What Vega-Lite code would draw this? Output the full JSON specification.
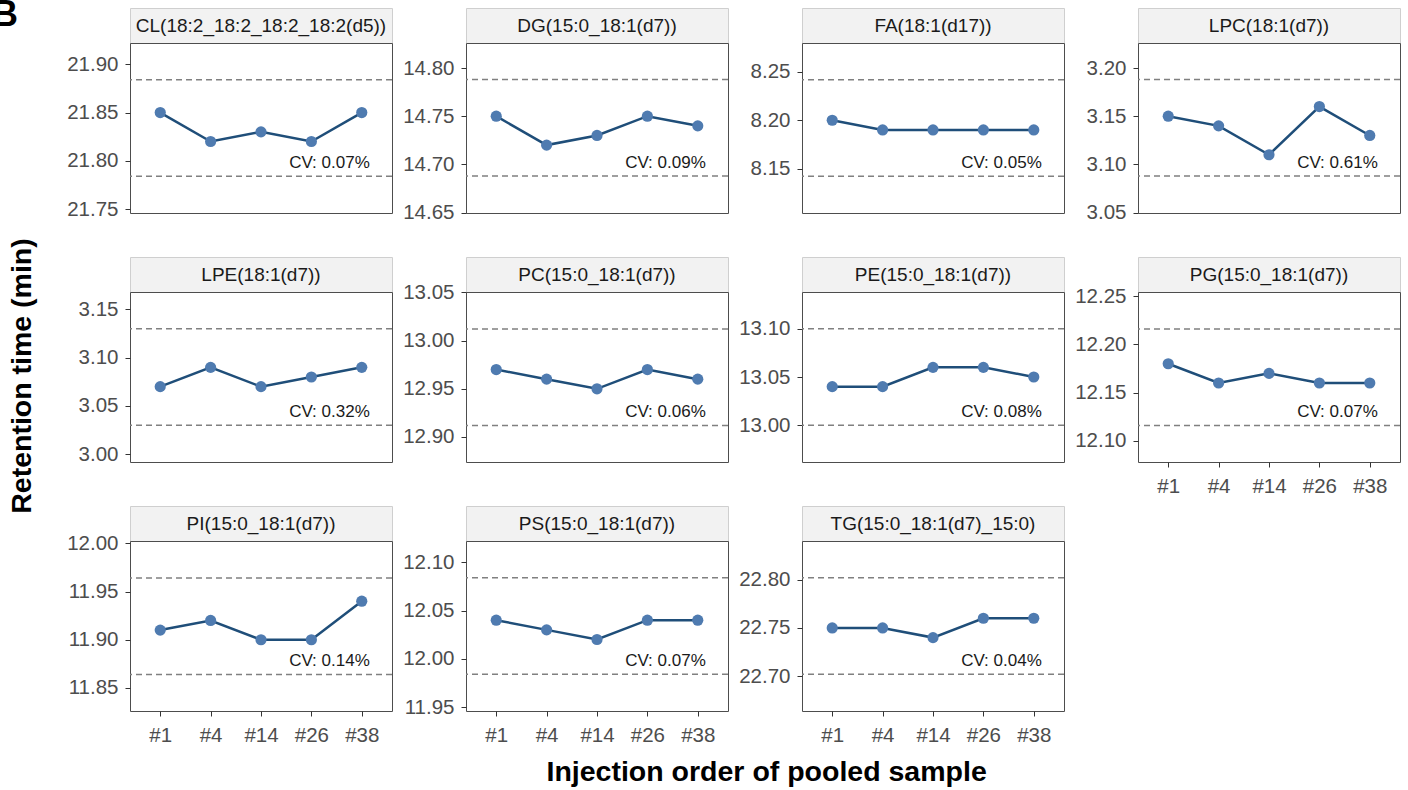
{
"$schema": "https://vega.github.io/schema/vega-lite/v6.json",
"padding": {"left": -8, "top": -3, "right": 5, "bottom": 5},
"background": "white",
"title": {"text": "Injection order of pooled sample", "orient": "bottom", "anchor": "middle", "frame": "bounds", "dx": 70, "offset": 12, "fontSize": 28.5, "fontWeight": "bold", "font": "Liberation Sans", "color": "#000000"},
"config": {
 "font": "Liberation Sans",
 "view": {"stroke": "#4d4d4d", "strokeWidth": 1},
 "axis": {"labelFontSize": 20.5, "labelColor": "#4d4d4d", "tickColor": "#333333", "tickSize": 5, "domain": false, "grid": false, "labelPadding": 7, "title": null},
 "axisX": {"labelPadding": 9, "labelAngle": 0}
},
"datasets": {
 "rt": [
  {"class":"CL","order":"#1","rt":21.85},{"class":"CL","order":"#4","rt":21.82},{"class":"CL","order":"#14","rt":21.83},{"class":"CL","order":"#26","rt":21.82},{"class":"CL","order":"#38","rt":21.85},
  {"class":"DG","order":"#1","rt":14.75},{"class":"DG","order":"#4","rt":14.72},{"class":"DG","order":"#14","rt":14.73},{"class":"DG","order":"#26","rt":14.75},{"class":"DG","order":"#38","rt":14.74},
  {"class":"FA","order":"#1","rt":8.20},{"class":"FA","order":"#4","rt":8.19},{"class":"FA","order":"#14","rt":8.19},{"class":"FA","order":"#26","rt":8.19},{"class":"FA","order":"#38","rt":8.19},
  {"class":"LPC","order":"#1","rt":3.15},{"class":"LPC","order":"#4","rt":3.14},{"class":"LPC","order":"#14","rt":3.11},{"class":"LPC","order":"#26","rt":3.16},{"class":"LPC","order":"#38","rt":3.13},
  {"class":"LPE","order":"#1","rt":3.07},{"class":"LPE","order":"#4","rt":3.09},{"class":"LPE","order":"#14","rt":3.07},{"class":"LPE","order":"#26","rt":3.08},{"class":"LPE","order":"#38","rt":3.09},
  {"class":"PC","order":"#1","rt":12.97},{"class":"PC","order":"#4","rt":12.96},{"class":"PC","order":"#14","rt":12.95},{"class":"PC","order":"#26","rt":12.97},{"class":"PC","order":"#38","rt":12.96},
  {"class":"PE","order":"#1","rt":13.04},{"class":"PE","order":"#4","rt":13.04},{"class":"PE","order":"#14","rt":13.06},{"class":"PE","order":"#26","rt":13.06},{"class":"PE","order":"#38","rt":13.05},
  {"class":"PG","order":"#1","rt":12.18},{"class":"PG","order":"#4","rt":12.16},{"class":"PG","order":"#14","rt":12.17},{"class":"PG","order":"#26","rt":12.16},{"class":"PG","order":"#38","rt":12.16},
  {"class":"PI","order":"#1","rt":11.91},{"class":"PI","order":"#4","rt":11.92},{"class":"PI","order":"#14","rt":11.90},{"class":"PI","order":"#26","rt":11.90},{"class":"PI","order":"#38","rt":11.94},
  {"class":"PS","order":"#1","rt":12.04},{"class":"PS","order":"#4","rt":12.03},{"class":"PS","order":"#14","rt":12.02},{"class":"PS","order":"#26","rt":12.04},{"class":"PS","order":"#38","rt":12.04},
  {"class":"TG","order":"#1","rt":22.75},{"class":"TG","order":"#4","rt":22.75},{"class":"TG","order":"#14","rt":22.74},{"class":"TG","order":"#26","rt":22.76},{"class":"TG","order":"#38","rt":22.76}
 ],
 "stats": [
  {"class":"CL","lipid":"CL(18:2_18:2_18:2_18:2(d5))","lower":21.784,"upper":21.884,"cv":"CV: 0.07%"},
  {"class":"DG","lipid":"DG(15:0_18:1(d7))","lower":14.688,"upper":14.788,"cv":"CV: 0.09%"},
  {"class":"FA","lipid":"FA(18:1(d17))","lower":8.142,"upper":8.242,"cv":"CV: 0.05%"},
  {"class":"LPC","lipid":"LPC(18:1(d7))","lower":3.088,"upper":3.188,"cv":"CV: 0.61%"},
  {"class":"LPE","lipid":"LPE(18:1(d7))","lower":3.03,"upper":3.13,"cv":"CV: 0.32%"},
  {"class":"PC","lipid":"PC(15:0_18:1(d7))","lower":12.912,"upper":13.012,"cv":"CV: 0.06%"},
  {"class":"PE","lipid":"PE(15:0_18:1(d7))","lower":13.0,"upper":13.1,"cv":"CV: 0.08%"},
  {"class":"PG","lipid":"PG(15:0_18:1(d7))","lower":12.116,"upper":12.216,"cv":"CV: 0.07%"},
  {"class":"PI","lipid":"PI(15:0_18:1(d7))","lower":11.864,"upper":11.964,"cv":"CV: 0.14%"},
  {"class":"PS","lipid":"PS(15:0_18:1(d7))","lower":11.984,"upper":12.084,"cv":"CV: 0.07%"},
  {"class":"TG","lipid":"TG(15:0_18:1(d7)_15:0)","lower":22.702,"upper":22.802,"cv":"CV: 0.04%"}
 ]
},
"spacing": 22,
"hconcat": [
 {"data": {"values": [{"label": "Retention time (min)"}]}, "width": 44, "height": 736, "view": {"stroke": null}, "title": {"text": "B", "anchor": "start", "frame": "group", "fontSize": 36, "fontWeight": "bold", "font": "Liberation Sans", "color": "#000000", "baseline": "alphabetic", "offset": 0, "dy": 54, "dx": -8}, "mark": {"type": "text", "angle": 270, "fontSize": 28.5, "fontWeight": "bold", "color": "#000000", "align": "center", "baseline": "middle"}, "encoding": {"text": {"field": "label"}}},
 {
 "columns": 4,
 "align": "each",
 "spacing": {"row": 8, "column": 8},
 "concat": [
 {"spacing": 0, "bounds": "flush", "vconcat": [
  {"data": {"name": "stats"}, "transform": [{"filter": "datum.class == 'CL'"}], "width": 262, "height": 35, "view": {"fill": "#f2f2f2", "stroke": "#cfcfcf"}, "mark": {"type": "text", "fontSize": 19, "color": "#1a1a1a"}, "encoding": {"text": {"field": "lipid"}}},
  {"width": 262, "height": 170, "layer": [
   {"data": {"name": "stats"}, "transform": [{"filter": "datum.class == 'CL'"}], "mark": {"type": "rule", "stroke": "#808080", "strokeDash": [6,4], "strokeWidth": 1.5}, "encoding": {"y": {"field": "lower", "type": "quantitative", "scale": {"domain": [21.746, 21.922], "nice": false, "zero": false}, "axis": {"values": [21.75, 21.8, 21.85, 21.9], "format": ".2f"}}}},
   {"data": {"name": "stats"}, "transform": [{"filter": "datum.class == 'CL'"}], "mark": {"type": "rule", "stroke": "#808080", "strokeDash": [6,4], "strokeWidth": 1.5}, "encoding": {"y": {"field": "upper", "type": "quantitative"}}},
   {"data": {"name": "rt"}, "transform": [{"filter": "datum.class == 'CL'"}], "mark": {"type": "line", "color": "#1f4e79", "strokeWidth": 2.5}, "encoding": {"x": {"field": "order", "type": "ordinal", "scale": {"type": "point", "padding": 0.6, "domain": ["#1","#4","#14","#26","#38"]}, "axis": {"labelOpacity": 0, "tickOpacity": 0}}, "y": {"field": "rt", "type": "quantitative"}}},
   {"data": {"name": "rt"}, "transform": [{"filter": "datum.class == 'CL'"}], "mark": {"type": "point", "filled": true, "fill": "#4f7bb0", "opacity": 1, "size": 125}, "encoding": {"x": {"field": "order", "type": "ordinal"}, "y": {"field": "rt", "type": "quantitative"}}},
   {"data": {"name": "stats"}, "transform": [{"filter": "datum.class == 'CL'"}], "mark": {"type": "text", "align": "right", "dx": 8, "dy": -13, "fontSize": 17, "color": "#1a1a1a"}, "encoding": {"x": {"datum": "#38", "type": "ordinal"}, "y": {"field": "lower", "type": "quantitative"}, "text": {"field": "cv"}}}
  ]}
 ]},
 {"spacing": 0, "bounds": "flush", "vconcat": [
  {"data": {"name": "stats"}, "transform": [{"filter": "datum.class == 'DG'"}], "width": 262, "height": 35, "view": {"fill": "#f2f2f2", "stroke": "#cfcfcf"}, "mark": {"type": "text", "fontSize": 19, "color": "#1a1a1a"}, "encoding": {"text": {"field": "lipid"}}},
  {"width": 262, "height": 170, "layer": [
   {"data": {"name": "stats"}, "transform": [{"filter": "datum.class == 'DG'"}], "mark": {"type": "rule", "stroke": "#808080", "strokeDash": [6,4], "strokeWidth": 1.5}, "encoding": {"y": {"field": "lower", "type": "quantitative", "scale": {"domain": [14.6495, 14.826], "nice": false, "zero": false}, "axis": {"values": [14.65, 14.7, 14.75, 14.8], "format": ".2f"}}}},
   {"data": {"name": "stats"}, "transform": [{"filter": "datum.class == 'DG'"}], "mark": {"type": "rule", "stroke": "#808080", "strokeDash": [6,4], "strokeWidth": 1.5}, "encoding": {"y": {"field": "upper", "type": "quantitative"}}},
   {"data": {"name": "rt"}, "transform": [{"filter": "datum.class == 'DG'"}], "mark": {"type": "line", "color": "#1f4e79", "strokeWidth": 2.5}, "encoding": {"x": {"field": "order", "type": "ordinal", "scale": {"type": "point", "padding": 0.6, "domain": ["#1","#4","#14","#26","#38"]}, "axis": {"labelOpacity": 0, "tickOpacity": 0}}, "y": {"field": "rt", "type": "quantitative"}}},
   {"data": {"name": "rt"}, "transform": [{"filter": "datum.class == 'DG'"}], "mark": {"type": "point", "filled": true, "fill": "#4f7bb0", "opacity": 1, "size": 125}, "encoding": {"x": {"field": "order", "type": "ordinal"}, "y": {"field": "rt", "type": "quantitative"}}},
   {"data": {"name": "stats"}, "transform": [{"filter": "datum.class == 'DG'"}], "mark": {"type": "text", "align": "right", "dx": 8, "dy": -13, "fontSize": 17, "color": "#1a1a1a"}, "encoding": {"x": {"datum": "#38", "type": "ordinal"}, "y": {"field": "lower", "type": "quantitative"}, "text": {"field": "cv"}}}
  ]}
 ]},
 {"spacing": 0, "bounds": "flush", "vconcat": [
  {"data": {"name": "stats"}, "transform": [{"filter": "datum.class == 'FA'"}], "width": 262, "height": 35, "view": {"fill": "#f2f2f2", "stroke": "#cfcfcf"}, "mark": {"type": "text", "fontSize": 19, "color": "#1a1a1a"}, "encoding": {"text": {"field": "lipid"}}},
  {"width": 262, "height": 170, "layer": [
   {"data": {"name": "stats"}, "transform": [{"filter": "datum.class == 'FA'"}], "mark": {"type": "rule", "stroke": "#808080", "strokeDash": [6,4], "strokeWidth": 1.5}, "encoding": {"y": {"field": "lower", "type": "quantitative", "scale": {"domain": [8.104, 8.28], "nice": false, "zero": false}, "axis": {"values": [8.15, 8.2, 8.25], "format": ".2f"}}}},
   {"data": {"name": "stats"}, "transform": [{"filter": "datum.class == 'FA'"}], "mark": {"type": "rule", "stroke": "#808080", "strokeDash": [6,4], "strokeWidth": 1.5}, "encoding": {"y": {"field": "upper", "type": "quantitative"}}},
   {"data": {"name": "rt"}, "transform": [{"filter": "datum.class == 'FA'"}], "mark": {"type": "line", "color": "#1f4e79", "strokeWidth": 2.5}, "encoding": {"x": {"field": "order", "type": "ordinal", "scale": {"type": "point", "padding": 0.6, "domain": ["#1","#4","#14","#26","#38"]}, "axis": {"labelOpacity": 0, "tickOpacity": 0}}, "y": {"field": "rt", "type": "quantitative"}}},
   {"data": {"name": "rt"}, "transform": [{"filter": "datum.class == 'FA'"}], "mark": {"type": "point", "filled": true, "fill": "#4f7bb0", "opacity": 1, "size": 125}, "encoding": {"x": {"field": "order", "type": "ordinal"}, "y": {"field": "rt", "type": "quantitative"}}},
   {"data": {"name": "stats"}, "transform": [{"filter": "datum.class == 'FA'"}], "mark": {"type": "text", "align": "right", "dx": 8, "dy": -13, "fontSize": 17, "color": "#1a1a1a"}, "encoding": {"x": {"datum": "#38", "type": "ordinal"}, "y": {"field": "lower", "type": "quantitative"}, "text": {"field": "cv"}}}
  ]}
 ]},
 {"spacing": 0, "bounds": "flush", "vconcat": [
  {"data": {"name": "stats"}, "transform": [{"filter": "datum.class == 'LPC'"}], "width": 262, "height": 35, "view": {"fill": "#f2f2f2", "stroke": "#cfcfcf"}, "mark": {"type": "text", "fontSize": 19, "color": "#1a1a1a"}, "encoding": {"text": {"field": "lipid"}}},
  {"width": 262, "height": 170, "layer": [
   {"data": {"name": "stats"}, "transform": [{"filter": "datum.class == 'LPC'"}], "mark": {"type": "rule", "stroke": "#808080", "strokeDash": [6,4], "strokeWidth": 1.5}, "encoding": {"y": {"field": "lower", "type": "quantitative", "scale": {"domain": [3.0495, 3.226], "nice": false, "zero": false}, "axis": {"values": [3.05, 3.1, 3.15, 3.2], "format": ".2f"}}}},
   {"data": {"name": "stats"}, "transform": [{"filter": "datum.class == 'LPC'"}], "mark": {"type": "rule", "stroke": "#808080", "strokeDash": [6,4], "strokeWidth": 1.5}, "encoding": {"y": {"field": "upper", "type": "quantitative"}}},
   {"data": {"name": "rt"}, "transform": [{"filter": "datum.class == 'LPC'"}], "mark": {"type": "line", "color": "#1f4e79", "strokeWidth": 2.5}, "encoding": {"x": {"field": "order", "type": "ordinal", "scale": {"type": "point", "padding": 0.6, "domain": ["#1","#4","#14","#26","#38"]}, "axis": {"labelOpacity": 0, "tickOpacity": 0}}, "y": {"field": "rt", "type": "quantitative"}}},
   {"data": {"name": "rt"}, "transform": [{"filter": "datum.class == 'LPC'"}], "mark": {"type": "point", "filled": true, "fill": "#4f7bb0", "opacity": 1, "size": 125}, "encoding": {"x": {"field": "order", "type": "ordinal"}, "y": {"field": "rt", "type": "quantitative"}}},
   {"data": {"name": "stats"}, "transform": [{"filter": "datum.class == 'LPC'"}], "mark": {"type": "text", "align": "right", "dx": 8, "dy": -13, "fontSize": 17, "color": "#1a1a1a"}, "encoding": {"x": {"datum": "#38", "type": "ordinal"}, "y": {"field": "lower", "type": "quantitative"}, "text": {"field": "cv"}}}
  ]}
 ]},
 {"spacing": 0, "bounds": "flush", "vconcat": [
  {"data": {"name": "stats"}, "transform": [{"filter": "datum.class == 'LPE'"}], "width": 262, "height": 35, "view": {"fill": "#f2f2f2", "stroke": "#cfcfcf"}, "mark": {"type": "text", "fontSize": 19, "color": "#1a1a1a"}, "encoding": {"text": {"field": "lipid"}}},
  {"width": 262, "height": 170, "layer": [
   {"data": {"name": "stats"}, "transform": [{"filter": "datum.class == 'LPE'"}], "mark": {"type": "rule", "stroke": "#808080", "strokeDash": [6,4], "strokeWidth": 1.5}, "encoding": {"y": {"field": "lower", "type": "quantitative", "scale": {"domain": [2.992, 3.168], "nice": false, "zero": false}, "axis": {"values": [3.0, 3.05, 3.1, 3.15], "format": ".2f"}}}},
   {"data": {"name": "stats"}, "transform": [{"filter": "datum.class == 'LPE'"}], "mark": {"type": "rule", "stroke": "#808080", "strokeDash": [6,4], "strokeWidth": 1.5}, "encoding": {"y": {"field": "upper", "type": "quantitative"}}},
   {"data": {"name": "rt"}, "transform": [{"filter": "datum.class == 'LPE'"}], "mark": {"type": "line", "color": "#1f4e79", "strokeWidth": 2.5}, "encoding": {"x": {"field": "order", "type": "ordinal", "scale": {"type": "point", "padding": 0.6, "domain": ["#1","#4","#14","#26","#38"]}, "axis": {"labelOpacity": 0, "tickOpacity": 0}}, "y": {"field": "rt", "type": "quantitative"}}},
   {"data": {"name": "rt"}, "transform": [{"filter": "datum.class == 'LPE'"}], "mark": {"type": "point", "filled": true, "fill": "#4f7bb0", "opacity": 1, "size": 125}, "encoding": {"x": {"field": "order", "type": "ordinal"}, "y": {"field": "rt", "type": "quantitative"}}},
   {"data": {"name": "stats"}, "transform": [{"filter": "datum.class == 'LPE'"}], "mark": {"type": "text", "align": "right", "dx": 8, "dy": -13, "fontSize": 17, "color": "#1a1a1a"}, "encoding": {"x": {"datum": "#38", "type": "ordinal"}, "y": {"field": "lower", "type": "quantitative"}, "text": {"field": "cv"}}}
  ]}
 ]},
 {"spacing": 0, "bounds": "flush", "vconcat": [
  {"data": {"name": "stats"}, "transform": [{"filter": "datum.class == 'PC'"}], "width": 262, "height": 35, "view": {"fill": "#f2f2f2", "stroke": "#cfcfcf"}, "mark": {"type": "text", "fontSize": 19, "color": "#1a1a1a"}, "encoding": {"text": {"field": "lipid"}}},
  {"width": 262, "height": 170, "layer": [
   {"data": {"name": "stats"}, "transform": [{"filter": "datum.class == 'PC'"}], "mark": {"type": "rule", "stroke": "#808080", "strokeDash": [6,4], "strokeWidth": 1.5}, "encoding": {"y": {"field": "lower", "type": "quantitative", "scale": {"domain": [12.874, 13.0505], "nice": false, "zero": false}, "axis": {"values": [12.9, 12.95, 13.0, 13.05], "format": ".2f"}}}},
   {"data": {"name": "stats"}, "transform": [{"filter": "datum.class == 'PC'"}], "mark": {"type": "rule", "stroke": "#808080", "strokeDash": [6,4], "strokeWidth": 1.5}, "encoding": {"y": {"field": "upper", "type": "quantitative"}}},
   {"data": {"name": "rt"}, "transform": [{"filter": "datum.class == 'PC'"}], "mark": {"type": "line", "color": "#1f4e79", "strokeWidth": 2.5}, "encoding": {"x": {"field": "order", "type": "ordinal", "scale": {"type": "point", "padding": 0.6, "domain": ["#1","#4","#14","#26","#38"]}, "axis": {"labelOpacity": 0, "tickOpacity": 0}}, "y": {"field": "rt", "type": "quantitative"}}},
   {"data": {"name": "rt"}, "transform": [{"filter": "datum.class == 'PC'"}], "mark": {"type": "point", "filled": true, "fill": "#4f7bb0", "opacity": 1, "size": 125}, "encoding": {"x": {"field": "order", "type": "ordinal"}, "y": {"field": "rt", "type": "quantitative"}}},
   {"data": {"name": "stats"}, "transform": [{"filter": "datum.class == 'PC'"}], "mark": {"type": "text", "align": "right", "dx": 8, "dy": -13, "fontSize": 17, "color": "#1a1a1a"}, "encoding": {"x": {"datum": "#38", "type": "ordinal"}, "y": {"field": "lower", "type": "quantitative"}, "text": {"field": "cv"}}}
  ]}
 ]},
 {"spacing": 0, "bounds": "flush", "vconcat": [
  {"data": {"name": "stats"}, "transform": [{"filter": "datum.class == 'PE'"}], "width": 262, "height": 35, "view": {"fill": "#f2f2f2", "stroke": "#cfcfcf"}, "mark": {"type": "text", "fontSize": 19, "color": "#1a1a1a"}, "encoding": {"text": {"field": "lipid"}}},
  {"width": 262, "height": 170, "layer": [
   {"data": {"name": "stats"}, "transform": [{"filter": "datum.class == 'PE'"}], "mark": {"type": "rule", "stroke": "#808080", "strokeDash": [6,4], "strokeWidth": 1.5}, "encoding": {"y": {"field": "lower", "type": "quantitative", "scale": {"domain": [12.962, 13.138], "nice": false, "zero": false}, "axis": {"values": [13.0, 13.05, 13.1], "format": ".2f"}}}},
   {"data": {"name": "stats"}, "transform": [{"filter": "datum.class == 'PE'"}], "mark": {"type": "rule", "stroke": "#808080", "strokeDash": [6,4], "strokeWidth": 1.5}, "encoding": {"y": {"field": "upper", "type": "quantitative"}}},
   {"data": {"name": "rt"}, "transform": [{"filter": "datum.class == 'PE'"}], "mark": {"type": "line", "color": "#1f4e79", "strokeWidth": 2.5}, "encoding": {"x": {"field": "order", "type": "ordinal", "scale": {"type": "point", "padding": 0.6, "domain": ["#1","#4","#14","#26","#38"]}, "axis": {"labelOpacity": 0, "tickOpacity": 0}}, "y": {"field": "rt", "type": "quantitative"}}},
   {"data": {"name": "rt"}, "transform": [{"filter": "datum.class == 'PE'"}], "mark": {"type": "point", "filled": true, "fill": "#4f7bb0", "opacity": 1, "size": 125}, "encoding": {"x": {"field": "order", "type": "ordinal"}, "y": {"field": "rt", "type": "quantitative"}}},
   {"data": {"name": "stats"}, "transform": [{"filter": "datum.class == 'PE'"}], "mark": {"type": "text", "align": "right", "dx": 8, "dy": -13, "fontSize": 17, "color": "#1a1a1a"}, "encoding": {"x": {"datum": "#38", "type": "ordinal"}, "y": {"field": "lower", "type": "quantitative"}, "text": {"field": "cv"}}}
  ]}
 ]},
 {"spacing": 0, "bounds": "flush", "vconcat": [
  {"data": {"name": "stats"}, "transform": [{"filter": "datum.class == 'PG'"}], "width": 262, "height": 35, "view": {"fill": "#f2f2f2", "stroke": "#cfcfcf"}, "mark": {"type": "text", "fontSize": 19, "color": "#1a1a1a"}, "encoding": {"text": {"field": "lipid"}}},
  {"width": 262, "height": 170, "layer": [
   {"data": {"name": "stats"}, "transform": [{"filter": "datum.class == 'PG'"}], "mark": {"type": "rule", "stroke": "#808080", "strokeDash": [6,4], "strokeWidth": 1.5}, "encoding": {"y": {"field": "lower", "type": "quantitative", "scale": {"domain": [12.078, 12.2545], "nice": false, "zero": false}, "axis": {"values": [12.1, 12.15, 12.2, 12.25], "format": ".2f"}}}},
   {"data": {"name": "stats"}, "transform": [{"filter": "datum.class == 'PG'"}], "mark": {"type": "rule", "stroke": "#808080", "strokeDash": [6,4], "strokeWidth": 1.5}, "encoding": {"y": {"field": "upper", "type": "quantitative"}}},
   {"data": {"name": "rt"}, "transform": [{"filter": "datum.class == 'PG'"}], "mark": {"type": "line", "color": "#1f4e79", "strokeWidth": 2.5}, "encoding": {"x": {"field": "order", "type": "ordinal", "scale": {"type": "point", "padding": 0.6, "domain": ["#1","#4","#14","#26","#38"]}}, "y": {"field": "rt", "type": "quantitative"}}},
   {"data": {"name": "rt"}, "transform": [{"filter": "datum.class == 'PG'"}], "mark": {"type": "point", "filled": true, "fill": "#4f7bb0", "opacity": 1, "size": 125}, "encoding": {"x": {"field": "order", "type": "ordinal"}, "y": {"field": "rt", "type": "quantitative"}}},
   {"data": {"name": "stats"}, "transform": [{"filter": "datum.class == 'PG'"}], "mark": {"type": "text", "align": "right", "dx": 8, "dy": -13, "fontSize": 17, "color": "#1a1a1a"}, "encoding": {"x": {"datum": "#38", "type": "ordinal"}, "y": {"field": "lower", "type": "quantitative"}, "text": {"field": "cv"}}}
  ]}
 ]},
 {"spacing": 0, "bounds": "flush", "vconcat": [
  {"data": {"name": "stats"}, "transform": [{"filter": "datum.class == 'PI'"}], "width": 262, "height": 35, "view": {"fill": "#f2f2f2", "stroke": "#cfcfcf"}, "mark": {"type": "text", "fontSize": 19, "color": "#1a1a1a"}, "encoding": {"text": {"field": "lipid"}}},
  {"width": 262, "height": 170, "layer": [
   {"data": {"name": "stats"}, "transform": [{"filter": "datum.class == 'PI'"}], "mark": {"type": "rule", "stroke": "#808080", "strokeDash": [6,4], "strokeWidth": 1.5}, "encoding": {"y": {"field": "lower", "type": "quantitative", "scale": {"domain": [11.826, 12.0025], "nice": false, "zero": false}, "axis": {"values": [11.85, 11.9, 11.95, 12.0], "format": ".2f"}}}},
   {"data": {"name": "stats"}, "transform": [{"filter": "datum.class == 'PI'"}], "mark": {"type": "rule", "stroke": "#808080", "strokeDash": [6,4], "strokeWidth": 1.5}, "encoding": {"y": {"field": "upper", "type": "quantitative"}}},
   {"data": {"name": "rt"}, "transform": [{"filter": "datum.class == 'PI'"}], "mark": {"type": "line", "color": "#1f4e79", "strokeWidth": 2.5}, "encoding": {"x": {"field": "order", "type": "ordinal", "scale": {"type": "point", "padding": 0.6, "domain": ["#1","#4","#14","#26","#38"]}}, "y": {"field": "rt", "type": "quantitative"}}},
   {"data": {"name": "rt"}, "transform": [{"filter": "datum.class == 'PI'"}], "mark": {"type": "point", "filled": true, "fill": "#4f7bb0", "opacity": 1, "size": 125}, "encoding": {"x": {"field": "order", "type": "ordinal"}, "y": {"field": "rt", "type": "quantitative"}}},
   {"data": {"name": "stats"}, "transform": [{"filter": "datum.class == 'PI'"}], "mark": {"type": "text", "align": "right", "dx": 8, "dy": -13, "fontSize": 17, "color": "#1a1a1a"}, "encoding": {"x": {"datum": "#38", "type": "ordinal"}, "y": {"field": "lower", "type": "quantitative"}, "text": {"field": "cv"}}}
  ]}
 ]},
 {"spacing": 0, "bounds": "flush", "vconcat": [
  {"data": {"name": "stats"}, "transform": [{"filter": "datum.class == 'PS'"}], "width": 262, "height": 35, "view": {"fill": "#f2f2f2", "stroke": "#cfcfcf"}, "mark": {"type": "text", "fontSize": 19, "color": "#1a1a1a"}, "encoding": {"text": {"field": "lipid"}}},
  {"width": 262, "height": 170, "layer": [
   {"data": {"name": "stats"}, "transform": [{"filter": "datum.class == 'PS'"}], "mark": {"type": "rule", "stroke": "#808080", "strokeDash": [6,4], "strokeWidth": 1.5}, "encoding": {"y": {"field": "lower", "type": "quantitative", "scale": {"domain": [11.946, 12.122], "nice": false, "zero": false}, "axis": {"values": [11.95, 12.0, 12.05, 12.1], "format": ".2f"}}}},
   {"data": {"name": "stats"}, "transform": [{"filter": "datum.class == 'PS'"}], "mark": {"type": "rule", "stroke": "#808080", "strokeDash": [6,4], "strokeWidth": 1.5}, "encoding": {"y": {"field": "upper", "type": "quantitative"}}},
   {"data": {"name": "rt"}, "transform": [{"filter": "datum.class == 'PS'"}], "mark": {"type": "line", "color": "#1f4e79", "strokeWidth": 2.5}, "encoding": {"x": {"field": "order", "type": "ordinal", "scale": {"type": "point", "padding": 0.6, "domain": ["#1","#4","#14","#26","#38"]}}, "y": {"field": "rt", "type": "quantitative"}}},
   {"data": {"name": "rt"}, "transform": [{"filter": "datum.class == 'PS'"}], "mark": {"type": "point", "filled": true, "fill": "#4f7bb0", "opacity": 1, "size": 125}, "encoding": {"x": {"field": "order", "type": "ordinal"}, "y": {"field": "rt", "type": "quantitative"}}},
   {"data": {"name": "stats"}, "transform": [{"filter": "datum.class == 'PS'"}], "mark": {"type": "text", "align": "right", "dx": 8, "dy": -13, "fontSize": 17, "color": "#1a1a1a"}, "encoding": {"x": {"datum": "#38", "type": "ordinal"}, "y": {"field": "lower", "type": "quantitative"}, "text": {"field": "cv"}}}
  ]}
 ]},
 {"spacing": 0, "bounds": "flush", "vconcat": [
  {"data": {"name": "stats"}, "transform": [{"filter": "datum.class == 'TG'"}], "width": 262, "height": 35, "view": {"fill": "#f2f2f2", "stroke": "#cfcfcf"}, "mark": {"type": "text", "fontSize": 19, "color": "#1a1a1a"}, "encoding": {"text": {"field": "lipid"}}},
  {"width": 262, "height": 170, "layer": [
   {"data": {"name": "stats"}, "transform": [{"filter": "datum.class == 'TG'"}], "mark": {"type": "rule", "stroke": "#808080", "strokeDash": [6,4], "strokeWidth": 1.5}, "encoding": {"y": {"field": "lower", "type": "quantitative", "scale": {"domain": [22.664, 22.84], "nice": false, "zero": false}, "axis": {"values": [22.7, 22.75, 22.8], "format": ".2f"}}}},
   {"data": {"name": "stats"}, "transform": [{"filter": "datum.class == 'TG'"}], "mark": {"type": "rule", "stroke": "#808080", "strokeDash": [6,4], "strokeWidth": 1.5}, "encoding": {"y": {"field": "upper", "type": "quantitative"}}},
   {"data": {"name": "rt"}, "transform": [{"filter": "datum.class == 'TG'"}], "mark": {"type": "line", "color": "#1f4e79", "strokeWidth": 2.5}, "encoding": {"x": {"field": "order", "type": "ordinal", "scale": {"type": "point", "padding": 0.6, "domain": ["#1","#4","#14","#26","#38"]}}, "y": {"field": "rt", "type": "quantitative"}}},
   {"data": {"name": "rt"}, "transform": [{"filter": "datum.class == 'TG'"}], "mark": {"type": "point", "filled": true, "fill": "#4f7bb0", "opacity": 1, "size": 125}, "encoding": {"x": {"field": "order", "type": "ordinal"}, "y": {"field": "rt", "type": "quantitative"}}},
   {"data": {"name": "stats"}, "transform": [{"filter": "datum.class == 'TG'"}], "mark": {"type": "text", "align": "right", "dx": 8, "dy": -13, "fontSize": 17, "color": "#1a1a1a"}, "encoding": {"x": {"datum": "#38", "type": "ordinal"}, "y": {"field": "lower", "type": "quantitative"}, "text": {"field": "cv"}}}
  ]}
 ]}
 ]}
]
}
